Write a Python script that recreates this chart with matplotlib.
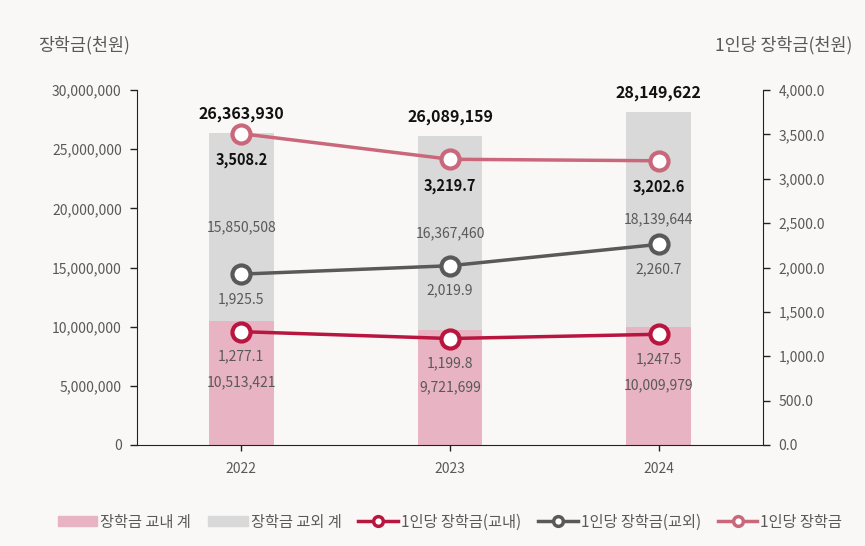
import numpy as np
import matplotlib
matplotlib.use("Agg")
import matplotlib.pyplot as plt
from matplotlib.lines import Line2D
from matplotlib.patches import Patch

plt.rcParams['font.family'] = ['Noto Sans CJK KR', 'DejaVu Sans']

# Data
years = ["2022", "2023", "2024"]
inside_total = [10513421, 9721699, 10009979]      # 장학금 교내 계
outside_total = [15850508, 16367460, 18139644]    # 장학금 교외 계
grand_total = [26363930, 26089159, 28149622]
per_inside = [1277.1, 1199.8, 1247.5]             # 1인당 장학금(교내)
per_outside = [1925.5, 2019.9, 2260.7]            # 1인당 장학금(교외)
per_all = [3508.2, 3219.7, 3202.6]                # 1인당 장학금

bg = "#f9f8f6"
c_pink_bar = "#e8b3c3"
c_grey_bar = "#d9d9d9"
c_inside = "#b8163e"
c_outside = "#595959"
c_all = "#c9687b"
c_text = "#595959"

fig = plt.figure(figsize=(8.65, 5.46), dpi=100, facecolor=bg)
ax = fig.add_axes([137/865, 1-445/546, 626/865, 355/546])
ax.set_facecolor(bg)
ax2 = ax.twinx()

x = np.arange(len(years))
w = 0.31
ax.bar(x, inside_total, w, color=c_pink_bar, zorder=1)
ax.bar(x, outside_total, w, bottom=inside_total, color=c_grey_bar, zorder=1)

ax.set_xlim(-0.5, 2.5)
ax.set_ylim(0, 30000000)
ax.set_yticks(np.arange(0, 30000001, 5000000))
ax.set_yticklabels(["{:,}".format(v) for v in range(0, 30000001, 5000000)])
ax.set_xticks(x)
ax.set_xticklabels(years)
ax2.set_ylim(0, 4000)
ax2.set_yticks(np.arange(0, 4001, 500))
ax2.set_yticklabels(["{:,.1f}".format(v) for v in range(0, 4001, 500)])

for a in (ax, ax2):
    a.spines['top'].set_visible(False)
    a.tick_params(labelsize=10, colors=c_text, length=5, width=1)
    a.tick_params(axis='y', pad=6)
ax.tick_params(axis='x', length=4, pad=8)
ax.spines['right'].set_visible(False)
ax2.spines['left'].set_visible(False)
ax.spines['left'].set_color("#222222")
ax2.spines['right'].set_color("#222222")
ax.spines['bottom'].set_color("#222222")
ax2.spines['bottom'].set_visible(False)
ax.tick_params(axis='both', color="#222222")
ax2.tick_params(axis='y', color="#222222")

# Lines
for vals, col in [(per_inside, c_inside), (per_outside, c_outside), (per_all, c_all)]:
    ax2.plot(x, vals, color=col, lw=2.5, marker='o', ms=13, mfc='white',
             mec=col, mew=3, zorder=3)

# Bar labels
for i in range(len(years)):
    ax.text(x[i], inside_total[i]/2, "{:,}".format(inside_total[i]),
            ha='center', va='center', fontsize=10, color=c_text)
    ax.text(x[i], inside_total[i] + outside_total[i]/2,
            "{:,}".format(outside_total[i]),
            ha='center', va='center', fontsize=10, color=c_text)
    ax.annotate("{:,}".format(grand_total[i]), (x[i], grand_total[i]),
                xytext=(0, 8), textcoords='offset points', ha='center',
                va='bottom', fontsize=11.5, fontweight='bold', color='#111111')
    ax2.annotate("{:,.1f}".format(per_inside[i]), (x[i], per_inside[i]),
                 xytext=(0, -18), textcoords='offset points', ha='center',
                 va='center', fontsize=10, color=c_text)
    ax2.annotate("{:,.1f}".format(per_outside[i]), (x[i], per_outside[i]),
                 xytext=(0, -18), textcoords='offset points', ha='center',
                 va='center', fontsize=10, color=c_text)
    ax2.annotate("{:,.1f}".format(per_all[i]), (x[i], per_all[i]),
                 xytext=(0, -19), textcoords='offset points', ha='center',
                 va='center', fontsize=10.5, fontweight='bold', color='#111111')

fig.text(38/865, 1-45/546, "장학금(천원)", fontsize=12.5, color=c_text,
         ha='left', va='center')
fig.text(852/865, 1-45/546, "1인당 장학금(천원)", fontsize=12.5, color=c_text,
         ha='right', va='center')

handles = [
    Patch(color=c_pink_bar, label="장학금 교내 계"),
    Patch(color=c_grey_bar, label="장학금 교외 계"),
    Line2D([], [], color=c_inside, lw=2.5, marker='o', ms=7, mfc='white',
           mec=c_inside, mew=2.5, label="1인당 장학금(교내)"),
    Line2D([], [], color=c_outside, lw=2.5, marker='o', ms=7, mfc='white',
           mec=c_outside, mew=2.5, label="1인당 장학금(교외)"),
    Line2D([], [], color=c_all, lw=2.5, marker='o', ms=7, mfc='white',
           mec=c_all, mew=2.5, label="1인당 장학금"),
]
leg = fig.legend(handles=handles, loc='center', bbox_to_anchor=(450/865, 1-522/546),
                 ncol=5, frameon=False, fontsize=11, handlelength=2.6,
                 handleheight=0.6, handletextpad=0.2, columnspacing=1.1)
for t in leg.get_texts():
    t.set_color(c_text)

fig.savefig("out.png", dpi=100, facecolor=bg)
